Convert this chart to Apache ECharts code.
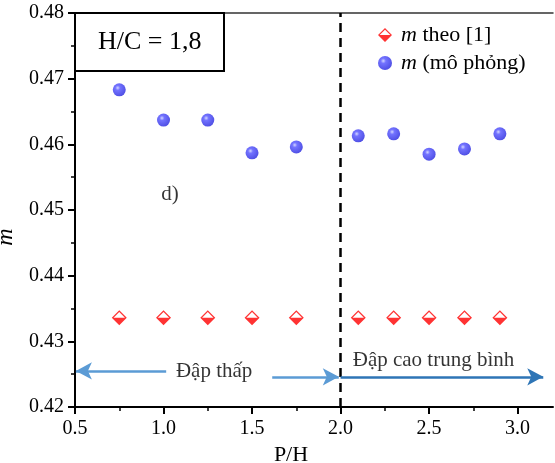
<!DOCTYPE html>
<html>
<head>
<meta charset="utf-8">
<script src="https://cdn.jsdelivr.net/npm/echarts@6/dist/echarts.min.js"></script>
<style>html,body{margin:0;padding:0;background:#fff}#c{width:555px;height:463px}</style>
</head>
<body>
<div id="c"></div>
<script>
const ratioPH = [0.75, 1.0, 1.25, 1.5, 1.75, 2.1, 2.3, 2.5, 2.7, 2.9];
const mTheo = [0.4336, 0.4336, 0.4336, 0.4336, 0.4336, 0.4336, 0.4336, 0.4336, 0.4336, 0.4336];
const mSim = [0.4683, 0.4637, 0.4637, 0.4587, 0.4596, 0.4613, 0.4616, 0.4585, 0.4593, 0.4616];
const xMajorTicks = [0.5, 1.0, 1.5, 2.0, 2.5, 3.0];
const xMinorTicks = [0.75, 1.25, 1.75, 2.25, 2.75];
const seriesNames = ['m theo [1]', 'm (mô phỏng)'];
const titleText = 'H/C = 1,8';
const panelLabel = 'd)';
const zoneLow = 'Đập thấp';
const zoneHigh = 'Đập cao trung bình';
const splitPH = 2.0;

const FONT = 'Liberation Serif';
const diamondPath = 'path://M0 10 L20 10 L10 20 Z M0 10 L10 0 L20 10 L17.6 10 L10 2.4 L2.4 10 Z';
const sphere = {
  type: 'radial', x: 0.38, y: 0.35, r: 0.75,
  colorStops: [{offset: 0, color: '#c8ccff'}, {offset: 0.25, color: '#5050ff'}, {offset: 1, color: '#1c1cd8'}]
};

const chart = echarts.init(document.getElementById('c'));
chart.setOption({
  animation: false,
  backgroundColor: '#fff',
  textStyle: {fontFamily: FONT, color: '#000'},
  grid: {left: 75, right: 2, top: 13, bottom: 56, containLabel: false, outerBoundsMode: 'none'},
  title: {
    text: titleText, left: 75, top: 13,
    padding: [16, 23], borderWidth: 2, borderColor: '#000',
    textStyle: {fontFamily: FONT, fontSize: 26, fontWeight: 'normal', color: '#000'}
  },
  legend: {
    data: seriesNames, orient: 'vertical', left: 373, top: 19,
    itemWidth: 22, itemHeight: 14, itemGap: 6,
    textStyle: {fontFamily: FONT, fontSize: 22, color: '#000',
      rich: {
        i: {fontFamily: FONT, fontSize: 22, fontStyle: 'italic', color: '#000'},
        t: {fontFamily: FONT, fontSize: 22, color: '#000'}
      }},
    formatter: n => '{i|m}{t|' + n.slice(1) + '}'
  },
  xAxis: [{
    type: 'value', min: 0.5, max: 3.2, interval: 0.5, position: 'bottom',
    name: 'P/H', nameLocation: 'middle', nameGap: 36,
    nameTextStyle: {fontFamily: FONT, fontSize: 22, color: '#000', padding: [0, 46, 0, 0]},
    axisLine: {lineStyle: {color: '#000', width: 2}},
    axisTick: {inside: false, length: 7, lineStyle: {width: 2, color: '#000'}, customValues: xMajorTicks},
    axisLabel: {fontFamily: FONT, fontSize: 20, color: '#000', margin: 12, customValues: xMajorTicks,
      formatter: v => v.toFixed(1)},
    splitLine: {show: false}
  }, {
    type: 'value', min: 0.5, max: 3.2, position: 'bottom',
    axisLine: {show: false},
    axisTick: {length: 4, lineStyle: {width: 1.5, color: '#000'}, customValues: xMinorTicks},
    axisLabel: {show: false}, splitLine: {show: false}
  }, {
    type: 'value', min: 0.5, max: 3.2, position: 'top',
    axisLine: {lineStyle: {color: '#333', width: 1.5}},
    axisTick: {show: false}, axisLabel: {show: false}, splitLine: {show: false}
  }],
  yAxis: {
    type: 'value', min: 0.42, max: 0.48, interval: 0.01,
    name: 'm', nameLocation: 'middle', nameGap: 50,
    nameTextStyle: {fontFamily: FONT, fontSize: 24, fontStyle: 'italic', color: '#000', padding: [0, 54, 0, 0]},
    axisLine: {lineStyle: {color: '#000', width: 2}},
    axisTick: {length: 7, lineStyle: {width: 2, color: '#000'}},
    minorTick: {show: true, splitNumber: 2, length: 4, lineStyle: {width: 1.5, color: '#000'}},
    axisLabel: {fontFamily: FONT, fontSize: 20, color: '#000', margin: 11, formatter: v => v.toFixed(2)},
    splitLine: {show: false}
  },
  series: [{
    name: seriesNames[0], type: 'scatter', xAxisIndex: 0,
    data: ratioPH.map((x, i) => [x, mTheo[i]]),
    symbol: diamondPath, symbolSize: 15,
    itemStyle: {color: '#ff0000'},
    z: 3,
    markLine: {
      silent: true, animation: false, label: {show: false},
      symbol: ['none', 'none'],
      data: [
        [{coord: [splitPH, 0.42], lineStyle: {color: '#000', width: 2.5, type: [9, 6]}}, {coord: [splitPH, 0.48]}],
        [{coord: [1.015, 0.4255], symbol: 'none', lineStyle: {color: '#5b9bd5', width: 2.5, type: 'solid'}},
         {coord: [0.505, 0.4255], symbol: 'arrow', symbolSize: [13, 16]}],
        [{coord: [1.614, 0.4246], symbol: 'none', lineStyle: {color: '#5b9bd5', width: 2.5, type: 'solid'}},
         {coord: [1.99, 0.4246], symbol: 'arrow', symbolSize: [13, 16]}],
        [{coord: [2.0, 0.4246], symbol: 'none', lineStyle: {color: '#2e75b6', width: 2.5, type: 'solid'}},
         {coord: [3.145, 0.4246], symbol: 'arrow', symbolSize: [13, 16]}]
      ]
    }
  }, {
    name: seriesNames[1], type: 'scatter', xAxisIndex: 0,
    data: ratioPH.map((x, i) => [x, mSim[i]]),
    symbol: 'circle', symbolSize: 13,
    itemStyle: {color: sphere},
    z: 3
  }, {
    name: 'notes', type: 'scatter', xAxisIndex: 0, silent: true,
    symbolSize: 0,
    data: [[1.037, 0.4523, panelLabel], [1.286, 0.4254, zoneLow], [2.525, 0.4271, zoneHigh]],
    label: {show: true, position: 'inside', fontFamily: FONT, color: '#000',
      formatter: p => p.value[2], fontSize: 21}
  }]
});
</script>
</body>
</html>
